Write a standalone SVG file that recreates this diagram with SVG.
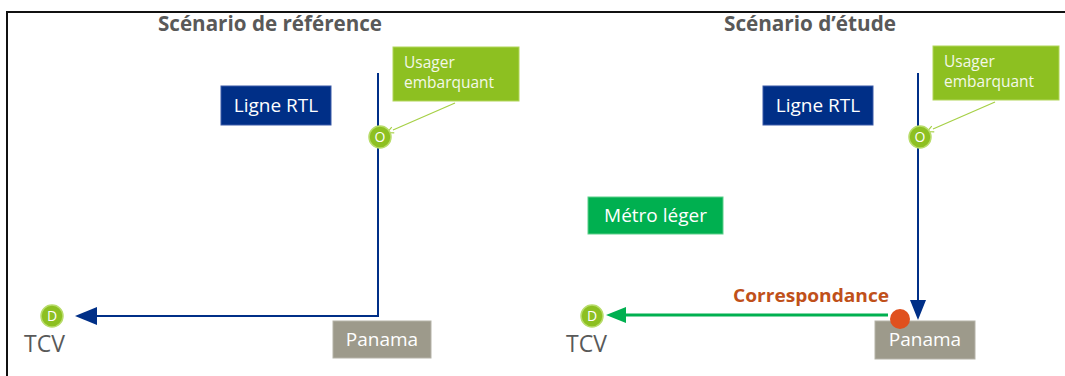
<svg xmlns="http://www.w3.org/2000/svg" width="1065" height="376" viewBox="0 0 1065 376">
<style>
text{font-family:"Open Sans","Liberation Sans",sans-serif}
.title{font-size:20.5px;font-weight:bold;fill:#595959}
.box{font-size:19px;fill:#ffffff}
.usr{font-size:15.5px;fill:#f4f8e8}
.tcv{font-size:23px;fill:#595959}
.circ{fill:#8dc021;stroke:#b8dc6a;stroke-width:1.5}
.ltr{font-size:14px;fill:#ffffff;text-anchor:middle}
.rtl{fill:#002f87}
.navy{stroke:#002f87;stroke-width:2;fill:none}
.ptr{stroke:#a6d046;stroke-width:1.3;fill:none}
</style>
<defs>
<marker id="ah" viewBox="0 0 10 10" refX="1" refY="5" markerWidth="6" markerHeight="6" orient="auto-start-reverse">
<path d="M1,1 L9,5 L1,9" fill="none" stroke="#a6d046" stroke-width="1.5"/>
</marker>
</defs>
<rect x="0" y="0" width="1065" height="376" fill="#ffffff"/>
<path d="M7,376 V12 H1065" fill="none" stroke="#111" stroke-width="2"/>
<text class="title" x="270" y="31" text-anchor="middle" textLength="224" lengthAdjust="spacingAndGlyphs">Scénario de référence</text>
<text class="title" x="810" y="31" text-anchor="middle" textLength="172" lengthAdjust="spacingAndGlyphs">Scénario d’étude</text>
<g id="connectors">
<path class="navy" d="M378,73 V316 H95"/>
<polygon class="rtl" points="75,316 97,307 97,325"/>
<line class="ptr" x1="455" y1="103" x2="393" y2="130" marker-end="url(#ah)"/>
<line class="navy" x1="918" y1="73" x2="918" y2="302"/>
<polygon class="rtl" points="918,320 910,300 926,300"/>
<line x1="888" y1="315" x2="622" y2="315" stroke="#00b050" stroke-width="3"/>
<polygon fill="#00b050" points="606,315 626,307 626,323"/>
<line class="ptr" x1="995" y1="102" x2="933" y2="129" marker-end="url(#ah)"/>
</g>
<g id="ligne-rtl-ref">
<rect x="221" y="86" width="110" height="39" fill="#002f87" stroke="#3a5aa8" stroke-width="1"/>
<text class="box" x="276" y="112" text-anchor="middle">Ligne RTL</text>
</g>
<g id="usager-ref">
<rect x="393" y="47" width="126" height="54" fill="#8dc021" stroke="#b1d65a" stroke-width="1"/>
<text class="usr" x="404" y="68">Usager</text>
<text class="usr" x="404" y="88">embarquant</text>
</g>
<g id="o-ref">
<circle class="circ" cx="380" cy="137" r="11"/>
<text class="ltr" x="380" y="142">O</text>
</g>
<g id="d-ref">
<circle class="circ" cx="52" cy="316" r="11"/>
<text class="ltr" x="52" y="321">D</text>
</g>
<text id="tcv-ref" class="tcv" x="24" y="352">TCV</text>
<g id="panama-ref">
<rect x="333" y="321" width="98" height="37" fill="#9d9a8b" stroke="#b5b3a8" stroke-width="1"/>
<text class="box" x="382" y="346" text-anchor="middle" fill="#f2f2f2">Panama</text>
</g>
<g id="ligne-rtl-etu">
<rect x="763" y="86" width="110" height="39" fill="#002f87" stroke="#3a5aa8" stroke-width="1"/>
<text class="box" x="818" y="112" text-anchor="middle">Ligne RTL</text>
</g>
<g id="usager-etu">
<rect x="933" y="46" width="126" height="54" fill="#8dc021" stroke="#b1d65a" stroke-width="1"/>
<text class="usr" x="944" y="67">Usager</text>
<text class="usr" x="944" y="87">embarquant</text>
</g>
<g id="o-etu">
<circle class="circ" cx="920" cy="137" r="11"/>
<text class="ltr" x="920" y="142">O</text>
</g>
<g id="metro-leger">
<rect x="588" y="197" width="135" height="37" fill="#00b050" stroke="#5ccf8a" stroke-width="1"/>
<text class="box" x="655.5" y="222" text-anchor="middle" font-size="20">Métro léger</text>
</g>
<g id="d-etu">
<circle class="circ" cx="592" cy="316" r="11"/>
<text class="ltr" x="592" y="321">D</text>
</g>
<text id="tcv-etu" class="tcv" x="566" y="352">TCV</text>
<text id="correspondance" x="733" y="302" font-size="17.5" font-weight="bold" fill="#c0501a" textLength="156" lengthAdjust="spacingAndGlyphs">Correspondance</text>
<g id="panama-etu">
<rect x="875" y="321" width="100" height="38" fill="#9d9a8b" stroke="#b5b3a8" stroke-width="1"/>
<text class="box" x="925" y="346" text-anchor="middle" fill="#f2f2f2">Panama</text>
</g>
<circle id="correspondance-dot" cx="900" cy="319" r="10" fill="#e0501e"/>
</svg>
